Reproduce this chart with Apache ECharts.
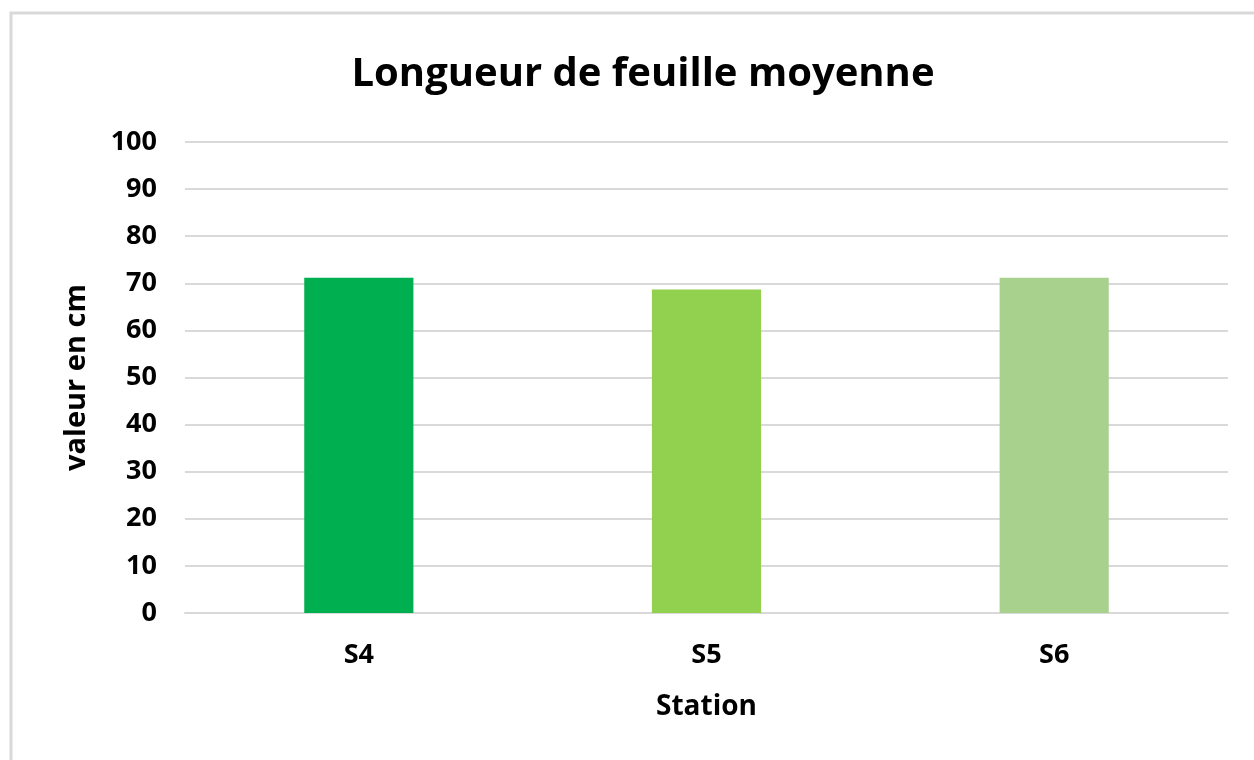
<!DOCTYPE html>
<html>
<head>
<meta charset="utf-8">
<script src="https://cdn.jsdelivr.net/npm/echarts@6/dist/echarts.min.js"></script>
<style>
  html, body { margin: 0; padding: 0; background: #fff; }
  #chart { width: 1254px; height: 760px; }
</style>
</head>
<body>
<div id="chart"></div>
<script>
var stations = ["S4", "S5", "S6"];
var longueurs = [71.2, 68.7, 71.2];
var couleurs = ["#00B050", "#92D050", "#A9D18E"];

var myChart = echarts.init(document.getElementById("chart"));
var fontFam = "'Open Sans', 'Noto Sans', sans-serif";
var option = {
  animation: false,
  textStyle: { fontFamily: fontFam },
  graphic: [
    {
      type: "rect",
      shape: { x: 11, y: 13, width: 1300, height: 800 },
      style: { fill: "none", stroke: "#d9d9d9", lineWidth: 3 }
    }
  ],
  title: {
    text: "Longueur de feuille moyenne",
    left: 638,
    textAlign: "center",
    top: 50,
    textStyle: { fontSize: 40, fontWeight: "bold", color: "#000", fontFamily: fontFam }
  },
  grid: { left: 185, right: 26, top: 142, bottom: 147 },
  xAxis: {
    type: "category",
    data: stations,
    name: "Station",
    nameLocation: "middle",
    nameGap: 80,
    nameTextStyle: { fontSize: 28, fontWeight: "bold", color: "#000" },
    axisLine: { lineStyle: { color: "#d9d9d9", width: 2 } },
    axisTick: { show: false },
    axisLabel: { fontSize: 27, fontWeight: "bold", color: "#000", margin: 29 }
  },
  yAxis: {
    type: "value",
    min: 0,
    max: 100,
    interval: 10,
    name: "valeur en cm",
    nameLocation: "middle",
    nameGap: 94,
    nameTextStyle: { fontSize: 29, fontWeight: "bold", color: "#000" },
    axisLabel: { fontSize: 27, fontWeight: "bold", color: "#000", margin: 28 },
    splitLine: { lineStyle: { color: "#d9d9d9", width: 2 } }
  },
  series: [
    {
      name: "Longueur",
      type: "bar",
      barWidth: "31.4%",
      data: longueurs.map(function(v, i) {
        return { value: v, itemStyle: { color: couleurs[i] } };
      })
    }
  ]
};
myChart.setOption(option);
</script>
</body>
</html>
